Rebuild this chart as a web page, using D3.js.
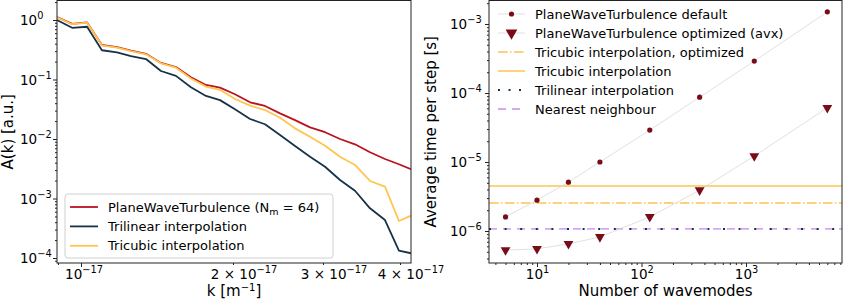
<!DOCTYPE html>
<html>
<head>
<meta charset="utf-8">
<script src="https://cdn.jsdelivr.net/npm/d3@7"></script>
<style>
  body { margin: 0; background: #fff; }
  text { font-family: "DejaVu Sans", sans-serif; fill: #000; }
</style>
</head>
<body>
<svg id="chart" width="843" height="300"></svg>
<script>
// ---- left panel: spectrum A(k), k in units of 1e-17 m^-1
const kValues = [0.896, 0.960, 1.028, 1.100, 1.178, 1.256, 1.345, 1.440, 1.542, 1.651, 1.768, 1.885,
  2.018, 2.160, 2.310, 2.472, 2.645, 2.830, 3.023, 3.197, 3.381, 3.576, 3.782, 3.984, 4.17];
const planeWave = [1.12, 0.86, 0.91, 0.38, 0.35, 0.305, 0.27, 0.19, 0.162, 0.109, 0.081, 0.073,
  0.0564, 0.0414, 0.0359, 0.0270, 0.0208, 0.0157, 0.0130, 0.0100, 0.00815, 0.00598, 0.00461, 0.00376, 0.00310];
const trilinear = [1.0, 0.74, 0.77, 0.31, 0.286, 0.248, 0.221, 0.139, 0.115, 0.074, 0.053, 0.045,
  0.0315, 0.0217, 0.0177, 0.01168, 0.00762, 0.00504, 0.00342, 0.00205, 0.00135, 0.000684, 0.000435, 0.000133, 0.000120];
const tricubic = [1.11, 0.85, 0.90, 0.376, 0.343, 0.30, 0.265, 0.187, 0.158, 0.104, 0.076, 0.067,
  0.047, 0.0363, 0.0307, 0.0228, 0.0151, 0.01094, 0.00771, 0.00504, 0.00366, 0.00197, 0.00158, 0.000419, 0.000514];
const leftSeries = [
  { name: "PlaneWaveTurbulence", values: planeWave, color: "#b8141f" },
  { name: "Trilinear interpolation", values: trilinear, color: "#17334a" },
  { name: "Tricubic interpolation", values: tricubic, color: "#ffc54f" }
];
const kTicks = [1, 2, 3, 4];           // labelled x ticks (x 1e-17)
const ampTicks = [0, -1, -2, -3, -4];  // decades

// ---- right panel: timing
const wavemodes = [5, 10, 20, 40, 120, 360, 1200, 6000];
const timeDefault = [1.6e-6, 2.8e-6, 5.1e-6, 1.0e-5, 2.9e-5, 8.7e-5, 2.9e-4, 1.5e-3];
const timeAvx = [5.3e-7, 5.5e-7, 6.5e-7, 8.2e-7, 1.6e-6, 3.9e-6, 1.22e-5, 6.1e-5];
const timeTricubicOpt = 2.55e-6;
const timeTricubic = 4.5e-6;
const timeTrilinear = 1.07e-6;
const timeNearest = 1.07e-6;
const nTicks = [1, 2, 3];
const timeTicks = [-3, -4, -5, -6];

const svg = d3.select("#chart");
const axisColor = "#222";
const minus = "\u2212";
const tickFont = 13.5, supFont = 9.8;

function logRange(lo, hi) {
  const out = [];
  for (let e = Math.floor(Math.log10(lo)) - 1; e <= Math.ceil(Math.log10(hi)); e++)
    for (let m = 1; m < 10; m++) {
      const v = +(m * Math.pow(10, e)).toPrecision(6);
      if (v >= lo && v <= hi) out.push(v);
    }
  return out;
}
function sup(sel, base, exp) {
  sel.append("tspan").text(base);
  sel.append("tspan").attr("dy", -6).attr("font-size", supFont).text(exp);
}
function styleAxis(g) {
  g.select(".domain").remove();
  g.selectAll(".tick line").attr("stroke", axisColor);
}

// ================= LEFT =================
const L = { x0: 57, x1: 411, y0: 0.5, y1: 263 };
const xk = d3.scaleLog().domain([0.896, 1, 2, 3, 4, 4.17]).range([57, 81, 233, 323, 400, 411]);
const ya = d3.scaleLog().domain([1e-4, 1]).range([258, 20]);

const ampLo = ya.invert(L.y1), ampHi = ya.invert(L.y0);
const ampMinor = logRange(ampLo, ampHi).filter(v => !ampTicks.some(e => Math.abs(v - Math.pow(10, e)) < 1e-12));

svg.append("g").attr("transform", `translate(${L.x0},0)`)
  .call(d3.axisLeft(ya).tickValues(ampMinor).tickSize(2).tickFormat("")).call(styleAxis);
const ly = svg.append("g").attr("transform", `translate(${L.x0},0)`)
  .call(d3.axisLeft(ya).tickValues(ampTicks.map(e => Math.pow(10, e))).tickSize(4).tickFormat("")).call(styleAxis);
ly.selectAll(".tick").append("text")
  .attr("x", 20 - L.x0).attr("dy", "0.36em").attr("text-anchor", "start").attr("font-size", tickFont)
  .each(function(d) { const e = Math.round(Math.log10(d)); sup(d3.select(this), "10", e < 0 ? minus + (-e) : "" + e); });

const kMinor = logRange(xk.domain()[0], xk.domain()[5]).filter(v => v !== 1);
svg.append("g").attr("transform", `translate(0,${L.y1})`)
  .call(d3.axisBottom(xk).tickValues(kMinor).tickSize(2).tickFormat("")).call(styleAxis);
svg.append("g").attr("transform", `translate(0,${L.y1})`)
  .call(d3.axisBottom(xk).tickValues([1]).tickSize(4).tickFormat("")).call(styleAxis);
svg.append("g").selectAll("text").data(kTicks).join("text")
  .attr("x", d => xk(d) + (d === 1 ? 3 : 11)).attr("y", 279).attr("text-anchor", "middle").attr("font-size", tickFont)
  .each(function(d) { sup(d3.select(this), d === 1 ? "10" : d + " \u00d7 10", minus + "17"); });

svg.append("defs").append("clipPath").attr("id", "clipL").append("rect")
  .attr("x", L.x0).attr("y", L.y0).attr("width", L.x1 - L.x0).attr("height", L.y1 - L.y0);
const lineL = d3.line().x((d, i) => xk(kValues[i])).y(d => ya(d));
svg.append("g").attr("clip-path", "url(#clipL)").selectAll("path").data(leftSeries).join("path")
  .attr("d", d => lineL(d.values)).attr("fill", "none").attr("stroke", d => d.color)
  .attr("stroke-width", 1.8).attr("stroke-linejoin", "round");

svg.append("rect").attr("x", L.x0).attr("y", L.y0).attr("width", L.x1 - L.x0).attr("height", L.y1 - L.y0)
  .attr("fill", "none").attr("stroke", axisColor).attr("stroke-width", 1);

// legend left
const legL = svg.append("g");
legL.append("rect").attr("x", 65).attr("y", 194).attr("width", 268).attr("height", 64).attr("rx", 3)
  .attr("fill", "#fff").attr("fill-opacity", 0.8).attr("stroke", "#d0d0d0");
const legLRows = legL.selectAll("g").data(leftSeries).join("g")
  .attr("transform", (d, i) => `translate(0,${207 + i * 19.4})`);
legLRows.append("line").attr("x1", 70).attr("x2", 98).attr("stroke", d => d.color).attr("stroke-width", 1.8);
legLRows.append("text").attr("x", 108).attr("dy", "0.36em").attr("font-size", 13)
  .each(function(d, i) {
    const t = d3.select(this);
    if (i === 0) {
      t.append("tspan").text(d.name + " (N");
      t.append("tspan").attr("dy", 3).attr("font-size", 9.5).text("m");
      t.append("tspan").attr("dy", -3).text(" = 64)");
    } else t.text(d.name);
  });

svg.append("text").attr("transform", `translate(12.5,${(L.y0 + L.y1) / 2}) rotate(-90)`)
  .attr("text-anchor", "middle").attr("font-size", 15).text("A(k) [a.u.]");
const kl = svg.append("text").attr("x", (L.x0 + L.x1) / 2).attr("y", 296).attr("text-anchor", "middle").attr("font-size", 15);
kl.append("tspan").text("k [m");
kl.append("tspan").attr("dy", -5).attr("font-size", 10).text(minus + "1");
kl.append("tspan").attr("dy", 5).text("]");

// ================= RIGHT =================
const R = { x0: 489, x1: 842, y0: 0.5, y1: 263 };
const xn = d3.scaleLog().domain([10, 1000]).range([537, 746]);
const yt = d3.scaleLog().domain([1e-6, 1e-3]).range([231, 24]);

const nMinor = logRange(xn.invert(R.x0), xn.invert(R.x1)).filter(v => !nTicks.some(e => v === Math.pow(10, e)));
svg.append("g").attr("transform", `translate(0,${R.y1})`)
  .call(d3.axisBottom(xn).tickValues(nMinor).tickSize(2).tickFormat("")).call(styleAxis);
const rx = svg.append("g").attr("transform", `translate(0,${R.y1})`)
  .call(d3.axisBottom(xn).tickValues(nTicks.map(e => Math.pow(10, e))).tickSize(4).tickFormat("")).call(styleAxis);
rx.selectAll(".tick").append("text").attr("y", 16).attr("text-anchor", "middle").attr("font-size", tickFont)
  .each(function(d) { sup(d3.select(this), "10", "" + Math.round(Math.log10(d))); });

const tMinor = logRange(yt.invert(R.y1), yt.invert(R.y0))
  .filter(v => !timeTicks.some(e => Math.abs(v / Math.pow(10, e) - 1) < 1e-6));
svg.append("g").attr("transform", `translate(${R.x0},0)`)
  .call(d3.axisLeft(yt).tickValues(tMinor).tickSize(2).tickFormat("")).call(styleAxis);
const ry = svg.append("g").attr("transform", `translate(${R.x0},0)`)
  .call(d3.axisLeft(yt).tickValues(timeTicks.map(e => Math.pow(10, e))).tickSize(4).tickFormat("")).call(styleAxis);
ry.selectAll(".tick").append("text")
  .attr("x", 450 - R.x0).attr("dy", "0.36em").attr("text-anchor", "start").attr("font-size", tickFont)
  .each(function(d) { sup(d3.select(this), "10", minus + (-Math.round(Math.log10(d)))); });

svg.append("defs").append("clipPath").attr("id", "clipR").append("rect")
  .attr("x", R.x0).attr("y", R.y0).attr("width", R.x1 - R.x0).attr("height", R.y1 - R.y0);
const plotR = svg.append("g").attr("clip-path", "url(#clipR)");

const hLines = [
  { name: "Tricubic interpolation, optimized", v: timeTricubicOpt, color: "#fcc550", dash: "9.6,2.4,1.5,2.4", w: 1.5 },
  { name: "Tricubic interpolation", v: timeTricubic, color: "#fcc550", dash: null, w: 1.5 },
  { name: "Nearest neighbour", v: timeNearest, color: "#d6a8f4", dash: "8,6", w: 1.8 },
  { name: "Trilinear interpolation", v: timeTrilinear, color: "#17334a", dash: "2,13.6", w: 2 }
];
plotR.selectAll("line.h").data(hLines).join("line").attr("class", "h")
  .attr("x1", R.x0).attr("x2", R.x1).attr("y1", d => yt(d.v)).attr("y2", d => yt(d.v))
  .attr("stroke", d => d.color).attr("stroke-width", d => d.w).attr("stroke-dasharray", d => d.dash);

const lineR = d3.line().x((d, i) => xn(wavemodes[i])).y(d => yt(d));
plotR.selectAll("path.g").data([timeDefault, timeAvx]).join("path").attr("class", "g")
  .attr("d", lineR).attr("fill", "none").attr("stroke", "#d8d8d8").attr("stroke-width", 0.8);

const markerColor = "#7a0c18";
const tri = d3.symbol().type(d3.symbolTriangle).size(42);
plotR.selectAll("circle").data(timeDefault).join("circle")
  .attr("cx", (d, i) => xn(wavemodes[i])).attr("cy", d => yt(d)).attr("r", 2.6).attr("fill", markerColor);
plotR.selectAll("path.t").data(timeAvx).join("path").attr("class", "t")
  .attr("d", tri).attr("transform", (d, i) => `translate(${xn(wavemodes[i])},${yt(d)}) rotate(180)`)
  .attr("fill", markerColor);

svg.append("rect").attr("x", R.x0).attr("y", R.y0).attr("width", R.x1 - R.x0).attr("height", R.y1 - R.y0)
  .attr("fill", "none").attr("stroke", axisColor).attr("stroke-width", 1);

// legend right
const legRItems = [
  { name: "PlaneWaveTurbulence default", kind: "circle" },
  { name: "PlaneWaveTurbulence optimized (avx)", kind: "tri" },
  hLines[0], hLines[1], hLines[3], hLines[2]
];
const legR = svg.append("g").selectAll("g").data(legRItems).join("g")
  .attr("transform", (d, i) => `translate(0,${14 + i * 19})`);
legR.each(function(d) {
  const g = d3.select(this);
  if (d.kind) {
    g.append("line").attr("x1", 498).attr("x2", 525).attr("stroke", "#d8d8d8").attr("stroke-width", 0.8);
    if (d.kind === "circle") g.append("circle").attr("cx", 511.5).attr("r", 2.6).attr("fill", markerColor);
    else g.append("path").attr("d", d3.symbol().type(d3.symbolTriangle).size(60)).attr("transform", "translate(511.5,0) rotate(180)").attr("fill", markerColor);
  } else {
    g.append("line").attr("x1", 498).attr("x2", 525).attr("stroke", d.color).attr("stroke-width", d.w)
      .attr("stroke-dasharray", d.dash === "2,13.6" ? "2,8.5" : d.dash);
  }
  g.append("text").attr("x", 535).attr("dy", "0.36em").attr("font-size", 13).text(d.name);
});

svg.append("text").attr("transform", `translate(436,${(R.y0 + R.y1) / 2}) rotate(-90)`)
  .attr("text-anchor", "middle").attr("font-size", 15).text("Average time per step [s]");
svg.append("text").attr("x", (R.x0 + R.x1) / 2).attr("y", 296).attr("text-anchor", "middle")
  .attr("font-size", 15).text("Number of wavemodes");
</script>
</body>
</html>
